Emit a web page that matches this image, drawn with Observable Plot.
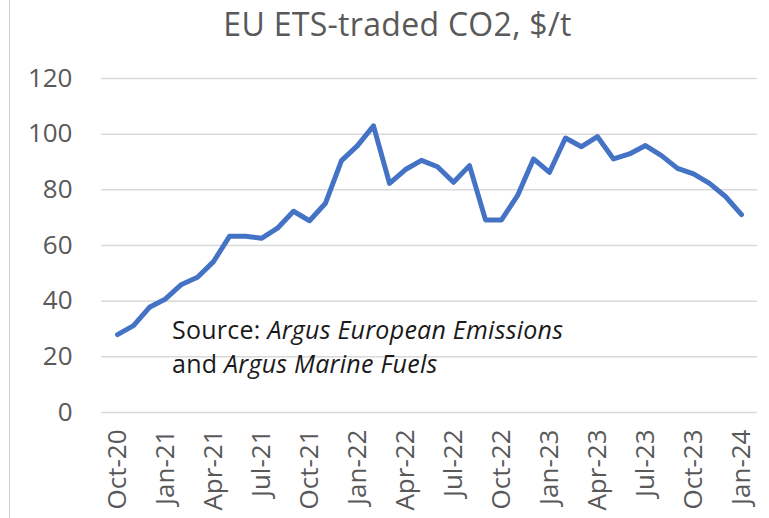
<!DOCTYPE html>
<html>
<head>
<meta charset="utf-8">
<script src="https://cdn.jsdelivr.net/npm/d3@7"></script>
<script src="https://cdn.jsdelivr.net/npm/@observablehq/plot@0.6"></script>
<style>
  html, body { margin: 0; padding: 0; background: #fff; }
  #wrap { position: relative; width: 769px; height: 518px; overflow: hidden; background: #fff; }
  #border { position: absolute; left: 9px; top: 0; width: 0; height: 518px; border-left: 1.5px solid #d0d0d0; }
  #title { height: 50px; width: 769px; box-sizing: border-box; padding-left: 26px; text-align: center; white-space: nowrap;
           font-family: "Open Sans", sans-serif; font-size: 32px; color: #595959; line-height: 47px; letter-spacing: 0.3px; }
</style>
</head>
<body>
<div id="wrap">
  <div id="border"></div>
  <div id="title">EU ETS-traded CO2, $/t</div>
  <div id="chart"></div>
</div>
<script>
const months = ["Oct-20","Nov-20","Dec-20","Jan-21","Feb-21","Mar-21","Apr-21","May-21","Jun-21","Jul-21",
  "Aug-21","Sep-21","Oct-21","Nov-21","Dec-21","Jan-22","Feb-22","Mar-22","Apr-22","May-22",
  "Jun-22","Jul-22","Aug-22","Sep-22","Oct-22","Nov-22","Dec-22","Jan-23","Feb-23","Mar-23",
  "Apr-23","May-23","Jun-23","Jul-23","Aug-23","Sep-23","Oct-23","Nov-23","Dec-23","Jan-24"];
const co2 = [28.0, 31.2, 37.8, 40.8, 46.0, 48.6, 54.2, 63.3, 63.3, 62.6,
  66.2, 72.3, 68.9, 75.2, 90.5, 95.9, 103.0, 82.3, 87.3, 90.6,
  88.3, 82.7, 88.7, 69.2, 69.2, 77.9, 91.1, 86.3, 98.6, 95.5,
  99.1, 91.1, 92.9, 95.9, 92.3, 87.7, 85.7, 82.3, 77.6, 71.1];
const xTicks = ["Oct-20","Jan-21","Apr-21","Jul-21","Oct-21","Jan-22","Apr-22","Jul-22","Oct-22","Jan-23","Apr-23","Jul-23","Oct-23","Jan-24"];
const yTicks = [0, 20, 40, 60, 80, 100, 120];

const data = months.map((m, i) => ({month: m, value: co2[i]}));

const chart = Plot.plot({
  width: 769,
  height: 468,
  marginTop: 28,
  marginBottom: 106,
  marginLeft: 101,
  marginRight: 12,
  style: {fontFamily: "Open Sans, sans-serif", fontSize: "26px", color: "#595959", background: "transparent", overflow: "visible"},
  x: {type: "point", domain: months, padding: 0.5},
  y: {domain: [0, 120]},
  marks: [
    Plot.gridY(yTicks, {stroke: "#d9d9d9", strokeOpacity: 1, strokeWidth: 1.5}),
    Plot.axisY(yTicks, {tickSize: 0, tickPadding: 29, label: null, fill: "#595959", fontSize: 26}),
    Plot.axisX(xTicks, {tickSize: 0, tickPadding: 17, tickRotate: -90, label: null, fill: "#595959", fontSize: 26, letterSpacing: 0.5}),
    Plot.line(data, {x: "month", y: "value", stroke: "#4472c4", strokeWidth: 5, strokeLinejoin: "round", strokeLinecap: "round"})
  ]
});
document.getElementById("chart").appendChild(chart);

// Source annotation with mixed roman / italic runs
const svg = d3.select(chart);
const note = svg.append("g")
  .attr("font-family", "Open Sans, sans-serif")
  .attr("font-size", 25)
  .attr("fill", "#1a1a1a")
  .attr("text-anchor", "start")
  .attr("letter-spacing", "0.25px");
const l1 = note.append("text").attr("x", 172).attr("y", 289);
l1.append("tspan").text("Source: ");
l1.append("tspan").attr("font-style", "italic").text("Argus European Emissions");
const l2 = note.append("text").attr("x", 172).attr("y", 323);
l2.append("tspan").text("and ");
l2.append("tspan").attr("font-style", "italic").text("Argus Marine Fuels");
</script>
</body>
</html>
